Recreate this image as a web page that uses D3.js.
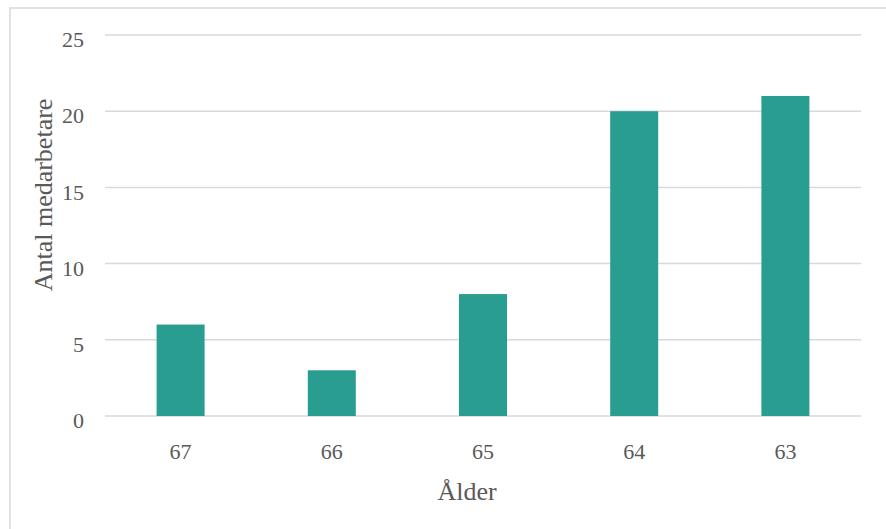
<!DOCTYPE html>
<html>
<head>
<meta charset="utf-8">
<script src="https://cdn.jsdelivr.net/npm/d3@7/dist/d3.min.js"></script>
<style>
  body { margin: 0; background: #fff; }
  svg { display: block; }
</style>
</head>
<body>
<svg width="886" height="529"></svg>
<script>
// data
var ages = ["67", "66", "65", "64", "63"];
var counts = [6, 3, 8, 20, 21];
var yTicks = [0, 5, 10, 15, 20, 25];

var serif = "Liberation Serif, Times New Roman, serif";

var svg = d3.select("svg"),
    margin = {top: 35, right: 25, bottom: 113, left: 105},
    width = +svg.attr("width") - margin.left - margin.right,
    height = +svg.attr("height") - margin.top - margin.bottom;

// chart frame
svg.append("rect")
  .attr("x", 10).attr("y", 8)
  .attr("width", 880).attr("height", 530)
  .attr("fill", "none")
  .attr("stroke", "#d9d9d9")
  .attr("stroke-width", 1.5);

var g = svg.append("g").attr("transform", "translate(" + margin.left + "," + margin.top + ")");

var x = d3.scaleBand()
  .domain(ages)
  .range([0, width])
  .paddingInner(0.6825)
  .paddingOuter(0.6825 / 2);

var y = d3.scaleLinear()
  .domain([0, 25])
  .range([height, 0]);

// gridlines
g.selectAll(".grid")
  .data(yTicks)
  .enter().append("line")
  .attr("class", "grid")
  .attr("x1", 0).attr("x2", width)
  .attr("y1", function (d) { return y(d); })
  .attr("y2", function (d) { return y(d); })
  .attr("stroke", "#d9d9d9")
  .attr("stroke-width", 1.5);

// y axis labels
var yAxis = g.append("g")
  .call(d3.axisLeft(y).tickValues(yTicks).tickSize(0).tickPadding(21));
yAxis.select(".domain").remove();
yAxis.attr("font-family", serif);
yAxis.selectAll("text")
  .attr("font-family", serif)
  .attr("font-size", 22)
  .attr("fill", "#595959")
  .attr("dy", "0.53em");

// bars
g.selectAll(".bar")
  .data(counts)
  .enter().append("rect")
  .attr("class", "bar")
  .attr("fill", "#2a9d91")
  .attr("x", function (d, i) { return x(ages[i]); })
  .attr("y", function (d) { return y(d); })
  .attr("width", x.bandwidth())
  .attr("height", function (d) { return height - y(d); });

// x axis labels
var xAxis = g.append("g")
  .attr("transform", "translate(0," + height + ")")
  .call(d3.axisBottom(x).tickSize(0).tickPadding(43));
xAxis.select(".domain").remove();
xAxis.attr("font-family", serif);
xAxis.selectAll("text")
  .attr("font-family", serif)
  .attr("font-size", 22)
  .attr("fill", "#595959")
  .attr("dy", "0");

// axis titles
svg.append("text")
  .attr("x", 467).attr("y", 500)
  .attr("text-anchor", "middle")
  .attr("font-family", serif)
  .attr("font-size", 26)
  .attr("fill", "#595959")
  .text("Ålder");

svg.append("text")
  .attr("transform", "translate(52,195) rotate(-90)")
  .attr("text-anchor", "middle")
  .attr("font-family", serif)
  .attr("font-size", 26)
  .attr("fill", "#595959")
  .text("Antal medarbetare");
</script>
</body>
</html>
